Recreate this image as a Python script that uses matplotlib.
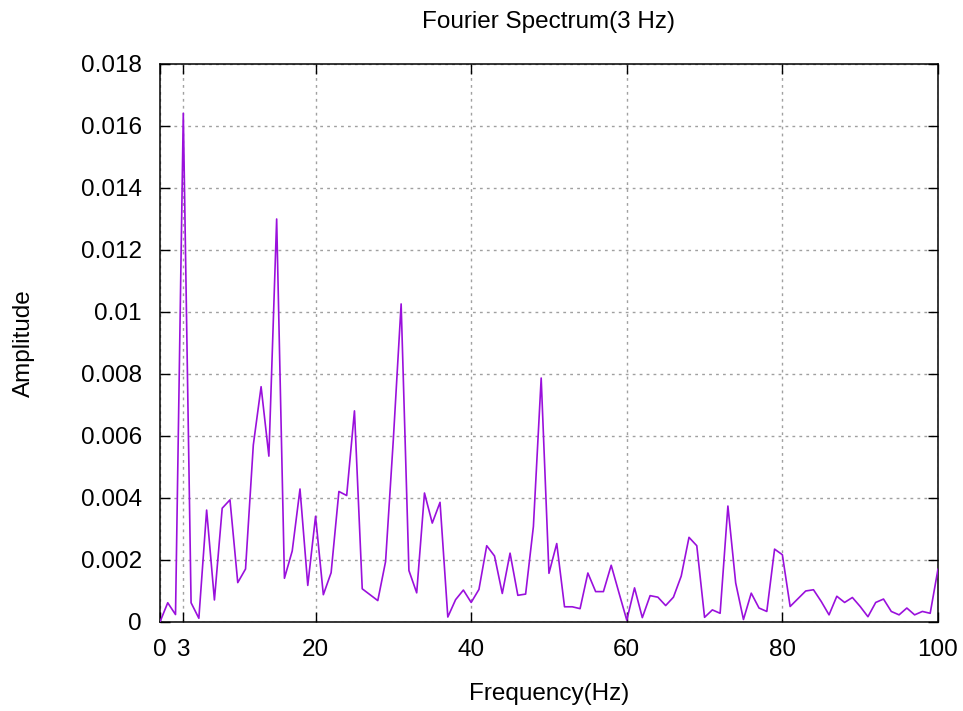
import numpy as np
import matplotlib.pyplot as plt

plt.rcParams['font.family'] = ['Liberation Sans', 'DejaVu Sans']

# frequency bins (Hz) and amplitude
freq = np.arange(0, 101)
amp = [
    0.0, 0.00062, 0.00024, 0.01641, 0.00062, 0.00012, 0.00361, 0.00071, 0.00367, 0.00394,
    0.00127, 0.00171, 0.00571, 0.00759, 0.00535, 0.0130, 0.00141, 0.00229, 0.00429, 0.00118,
    0.00341, 0.00088, 0.00159, 0.00421, 0.00408, 0.00681, 0.00107, 0.00088, 0.00069, 0.00195,
    0.0059, 0.01026, 0.00166, 0.00094, 0.00416, 0.00319, 0.00386, 0.00016, 0.00072, 0.00103,
    0.00063, 0.00105, 0.00246, 0.00213, 0.00092, 0.00222, 0.00086, 0.0009, 0.00308, 0.00787,
    0.00157, 0.00253, 0.00049, 0.00049, 0.00043, 0.00158, 0.00098, 0.00098, 0.00183, 0.00094,
    0.00006, 0.0011, 0.00014, 0.00085, 0.0008, 0.00053, 0.0008, 0.00148, 0.00273, 0.00246,
    0.00015, 0.00039, 0.00028, 0.00374, 0.00126, 0.00008, 0.00093, 0.00045, 0.00034, 0.00235,
    0.00217, 0.0005, 0.00075, 0.001, 0.00104, 0.00066, 0.00023, 0.00083, 0.00063, 0.00079,
    0.0005, 0.00017, 0.00063, 0.00074, 0.00034, 0.00023, 0.00045, 0.00023, 0.00034, 0.00028,
    0.0017,
]

xticks = [0, 3, 20, 40, 60, 80, 100]
yticks = np.arange(0, 0.0181, 0.002)
ylabels = ['0'] + ['%g' % round(v, 3) for v in yticks[1:]]

fig = plt.figure(figsize=(9.63, 7.11), dpi=100)
ax = fig.add_axes([0.1661, 0.1252, 0.8079, 0.7848])

ax.plot(freq, amp, color='#9a10dc', lw=1.2, zorder=3)

ax.set_xlim(0, 100)
ax.set_ylim(0, 0.018)
ax.set_xticks(xticks)
ax.set_yticks(yticks)
ax.set_yticklabels(ylabels)
ax.tick_params(direction='in', length=7, width=1, top=True, right=True,
               labelsize=17.5, colors='black')
ax.tick_params(axis='y', pad=13)
ax.tick_params(axis='x', pad=12)
ax.grid(True, color='#a0a0a0', linestyle=(0, (2, 3)), linewidth=1)
for s in ax.spines.values():
    s.set_linewidth(1.1)

ax.set_title('Fourier Spectrum(3 Hz)', fontsize=17.5, pad=26)
ax.set_xlabel('Frequency(Hz)', fontsize=17.5, labelpad=16)
ax.set_ylabel('Amplitude', fontsize=17.5, labelpad=33)

fig.savefig('out.png', dpi=100)
